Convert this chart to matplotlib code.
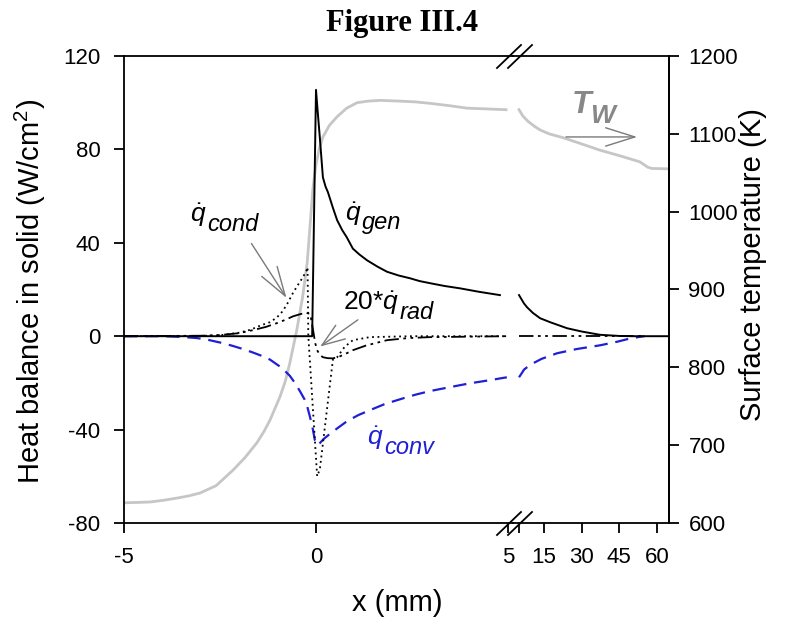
import matplotlib
matplotlib.use("Agg")
import matplotlib.pyplot as plt
from matplotlib.lines import Line2D

plt.rcParams['font.family'] = ['Liberation Sans', 'DejaVu Sans']
plt.rcParams['mathtext.fontset'] = 'custom'
plt.rcParams['mathtext.rm'] = 'Liberation Sans'
plt.rcParams['mathtext.it'] = 'Liberation Sans:italic'
plt.rcParams['axes.unicode_minus'] = False

# ---- data, left part of the x axis (-5 .. 5 mm) ----
gen_x = [-5, -0.1, 0.0, 0.05, 0.1, 0.18, 0.25, 0.31, 0.44, 0.55, 0.68, 0.8, 0.96, 1.13, 1.33, 1.6,
         1.85, 2.15, 2.45, 2.7, 2.97, 3.35, 3.75, 4.25, 4.79]
gen_y = [0, 0, 105.5, 95, 85, 68, 64, 61.7, 55, 49.7, 45.5, 42.4, 37.5, 35, 32.5, 29.8,
         27.6, 26, 24.8, 23.6, 22.7, 21.5, 20.5, 19, 17.6]

cond_x = [-5, -3, -2.5, -2, -1.7, -1.46, -1.2, -1.02, -0.88, -0.76, -0.6, -0.45, -0.34, -0.25, -0.22,
          -0.2, 0.03, 0.1, 0.44, 0.55, 0.75, 0.96, 1.4, 2.5, 4.95]
cond_y = [0, 0.1, 0.4, 1.5, 2.8, 4.5, 6, 8, 10.5, 13.5, 18.5, 22.5, 25.3, 28, 29.5,
          0, -60, -57, -10, -9, -4.5, -1.7, -0.4, 0, 0]

rad_x = [-5, -3, -2.5, -2, -1.64, -1.3, -1.02, -0.8, -0.6, -0.4, -0.25, -0.15, -0.08, -0.02, 0.03,
         0.1, 0.18, 0.3, 0.44, 0.6, 0.8, 0.96, 1.3, 1.85, 2.4, 2.97, 4.95]
rad_y = [0, 0.2, 0.5, 1.3, 2.6, 4, 5.6, 7, 8.5, 9.5, 10, 9.5, 3, -3, -6,
         -8, -9, -9.4, -9.5, -8.8, -7.3, -6, -4, -1.7, -0.8, -0.4, 0]

conv_x = [-5, -4, -3.5, -3.1, -2.8, -2.5, -2.2, -1.9, -1.64, -1.4, -1.2, -0.94, -0.8, -0.68, -0.55,
          -0.42, -0.3, -0.23, -0.15, -0.08, -0.03, 0.05, 0.2, 0.35, 0.55, 0.8, 1.1, 1.4, 1.8,
          2.27, 2.6, 2.97, 3.49, 4.0, 4.5, 4.97]
conv_y = [0, 0, -0.3, -0.8, -1.6, -2.7, -4, -5.5, -7, -8.5, -10, -13, -15, -17, -20,
          -23.5, -27, -30, -35, -40, -44.5, -46.7, -44, -42, -39.5, -36.5, -33.8, -31.7, -29,
          -26.6, -25, -23.5, -21.8, -20.2, -18.9, -17.6]

tw_x = [-5, -4.6, -4.32, -4, -3.62, -3.3, -3.02, -2.6, -2.16, -1.85, -1.54, -1.35, -1.2, -0.94, -0.8,
        -0.68, -0.5, -0.35, -0.23, -0.15, -0.08, 0.0, 0.08, 0.18, 0.35, 0.55, 0.8, 1.07, 1.35,
        1.67, 2.2, 2.6, 3.0, 3.5, 3.93, 4.45, 4.95]
tw_y = [626, 626.5, 627, 629, 632, 635, 638.5, 648, 668, 684, 703, 718, 732, 762, 782,
        806, 848, 890, 934, 985, 1030, 1060, 1080, 1096, 1111, 1122, 1133, 1140, 1142,
        1143, 1142, 1141, 1139, 1136, 1133, 1132, 1131]

# ---- data, right part of the x axis (5 .. 65 mm) ----
gen_x2 = [5, 6, 7, 8.2, 10.5, 13.4, 17.4, 20, 24.2, 30, 37.3, 42, 45, 50, 64.8]
gen_y2 = [17.6, 15.8, 14, 12.4, 10, 7.7, 6, 5, 3.4, 2, 0.6, 0.3, 0.1, 0, 0]

conv_x2 = [5, 6, 7, 8.2, 10.6, 14, 20.2, 28, 37.3, 44, 49.2, 53, 55]
conv_y2 = [-17.6, -16, -14.3, -13.3, -11.6, -9.7, -7.3, -5.5, -3.9, -2.4, -1, -0.3, 0]

zero_x2 = [5, 55]
zero_y2 = [0, 0]

tw_x2 = [5, 6.5, 8.6, 11, 13.4, 17, 22.6, 30, 37.3, 45, 53.2, 55, 56.4, 58, 64.8]
tw_y2 = [1131, 1123, 1116, 1110, 1105, 1100, 1095, 1087, 1079, 1072, 1064, 1060, 1057, 1055.5, 1055]

W, H = 792, 618
fig = plt.figure(figsize=(W / 100, H / 100), dpi=100)

ax1 = fig.add_axes([124 / W, 95 / H, (513 - 124) / W, 467 / H])
ax2 = fig.add_axes([513 / W, 95 / H, (669 - 513) / W, 467 / H])
tw1 = ax1.twinx()
tw2 = ax2.twinx()

# temperature behind the heat fluxes
for a, t in ((ax1, tw1), (ax2, tw2)):
    t.set_zorder(a.get_zorder() - 1)
    a.patch.set_visible(False)

gray = '#c6c6c6'
blue = '#1f1fd6'
rad_ls = (0, (8, 2.5, 1.5, 2.5, 1.5, 2.5))
conv_ls = (0, (6, 3.5))

tw1.plot(tw_x, tw_y, color=gray, lw=2)
tw2.plot(tw_x2, tw_y2, color=gray, lw=2)

ax1.plot(conv_x, conv_y, color=blue, lw=1.6, ls=conv_ls)
ax1.plot(cond_x, cond_y, color='black', lw=1.3, ls=(0, (1, 2)))
ax1.plot(rad_x, rad_y, color='black', lw=1.3, ls=rad_ls)
ax1.plot(gen_x, gen_y, color='black', lw=1.4)

ax2.plot(conv_x2, conv_y2, color=blue, lw=1.6, ls=conv_ls)
ax2.plot(zero_x2, zero_y2, color='black', lw=1.3, ls=rad_ls)
ax2.plot(gen_x2, gen_y2, color='black', lw=1.4)

ax1.set_xlim(-5, 5 + 5 / 38.4)
ax2.set_xlim(2.6, 64.8)
for a in (ax1, ax2):
    a.set_ylim(-80, 120)
for t in (tw1, tw2):
    t.set_ylim(600, 1200)

# spines
ax1.spines['right'].set_visible(False)
ax2.spines['left'].set_visible(False)
for s in tw1.spines.values():
    s.set_visible(False)
for k in ('left', 'top', 'bottom'):
    tw2.spines[k].set_visible(False)
for a in (ax1, ax2, tw1, tw2):
    for s in a.spines.values():
        s.set_linewidth(1.3)

ax1.set_xticks([-5, 0, 5])
ax1.set_yticks([-80, -40, 0, 40, 80, 120])
ax2.set_xticks([5, 15, 30, 45, 60])
ax2.set_xticklabels(['', '15', '30', '45', '60'])
ax2.set_yticks([])
tw1.set_yticks([])
tw2.set_yticks([600, 700, 800, 900, 1000, 1100, 1200])
for a in (ax1, ax2, tw2):
    a.tick_params(direction='out', length=7, width=1.3, labelsize=16, pad=10)
tw2.tick_params(axis='y', pad=7)

fig.text(30 / W, 1 - 291 / H, 'Heat balance in solid (W/cm$^2$)', fontsize=21,
         rotation=90, ha='center', va='center')
fig.text(753 / W, 1 - 265 / H, 'Surface temperature (K)', fontsize=21,
         rotation=90, ha='center', va='center')
fig.text(397 / W, 1 - 603 / H, 'x (mm)', fontsize=21, ha='center', va='center')
fig.text(402 / W, 1 - 23 / H, 'Figure III.4', fontsize=22, fontweight='bold',
         family='Liberation Serif', ha='center', va='center')

# axis break marks
for y0 in (56, 523):
    for dx in (0, 11):
        fig.add_artist(Line2D([(497 + dx) / W, (521 + dx) / W],
                              [1 - (y0 + 12) / H, 1 - (y0 - 11) / H],
                              transform=fig.transFigure, color='black', lw=1.3))

renderer = fig.canvas.get_renderer()


def sub_label(ax, x, y, main, sub, size, subsize, drop, color, **kw):
    t = ax.text(x, y, main, fontsize=size, color=color, ha='left', va='baseline', **kw)
    w = t.get_window_extent(renderer).width * 72 / fig.dpi
    ax.annotate(sub, xy=(x, y), xytext=(w + 0.5, -drop), textcoords='offset points',
                fontsize=subsize, color=color, ha='left', va='baseline', style='italic', **kw)


# labels and arrows
arrow = dict(arrowstyle='->,head_length=0.7,head_width=0.22', color='#7a7a7a', lw=1.0,
             mutation_scale=30)
sub_label(ax1, -3.28, 48.8, r'$\dot{q}$', 'cond', 19, 17, 6, 'black')
ax1.annotate('', xy=(-0.73, 15.4), xytext=(-1.72, 40.7), arrowprops=arrow)
sub_label(ax1, 0.755, 49.3, r'$\dot{q}$', 'gen', 19, 17, 6, 'black')
sub_label(ax1, 0.70, 11.1, r'20*$\dot{q}$', 'rad', 19, 17, 6, 'black')
ax1.annotate('', xy=(0.05, -5.1), xytext=(1.15, 7.7),
             arrowprops=dict(arrow, arrowstyle='->,head_length=0.55,head_width=0.2'))
sub_label(ax1, 1.33, -46.7, r'$\dot{q}$', 'conv', 19, 17, 6, blue)

t_txt = tw2.text(26.0, 1127, 'T', fontsize=23, color='#888888', fontweight='bold',
                 style='italic', ha='left', va='baseline')
tw2.annotate('W', xy=(26.0, 1127), xytext=(13, -7), textcoords='offset points', fontsize=19,
             color='#888888', fontweight='bold', style='italic', ha='left', va='baseline')
tw2.annotate('', xy=(53.2, 1096), xytext=(22.6, 1096), arrowprops=arrow)

fig.savefig('out.png', dpi=100)
